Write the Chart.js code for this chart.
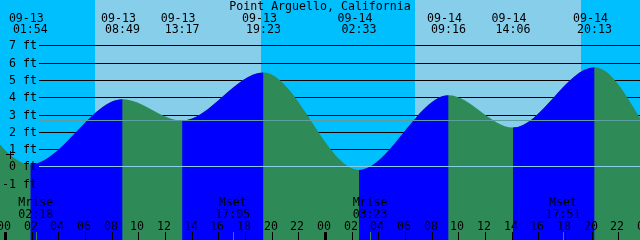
<!DOCTYPE html>
<html>
<head>
<meta charset="utf-8">
<script src="https://cdn.jsdelivr.net/npm/chart.js@4.4.1/dist/chart.umd.min.js"></script>
<style>
html,body{margin:0;padding:0;background:#00BFFF;overflow:hidden;}
canvas{display:block;}
</style>
</head>
<body>
<canvas id="c" width="640" height="240"></canvas>
<script>
// ---------- data ----------
const TITLE = 'Point Arguello, California';
// tide extremes (first two and last two lie outside the visible window, estimated)
const tideTimes   = ['09-12 12:20','09-12 18:40','09-13 01:54','09-13 08:49','09-13 13:17','09-13 19:23',
                     '09-14 02:33','09-14 09:16','09-14 14:06','09-14 20:13','09-15 03:12','09-15 09:50'];
const tideHeights = [2.9, 5.0, 0.1, 3.86, 2.62, 5.40, -0.23, 4.09, 2.22, 5.71, -0.4, 4.3];
const sunriseTimes = ['09-13 06:45','09-14 06:45'];
const sunsetTimes  = ['09-13 19:12','09-14 19:12'];
const moonLabels = ['Mrise','Mset','Mrise','Mset'];
const moonTimes  = ['09-13 02:18','09-13 17:05','09-14 03:23','09-14 17:51'];
const dayDates   = ['09-13','09-14','09-15'];
const hourLabels = ['00','02','04','06','08','10','12','14','16','18','20','22'];
const ftLevels   = [-1,0,1,2,3,4,5,6,7];
const mslLevel   = 2.66;

// ---------- styling ----------
const NIGHT = '#00BFFF', DAY = '#87CEEB', RISE = '#0000FF', FALL = '#2E8B57';
const FONT = '11.6px "DejaVu Sans Mono", monospace';
const X_MIN = -0.375, X_MAX = 47.625, Y_MIN = -4.28, Y_MAX = 9.60;

function toHours(s){
  const [md, hm] = s.split(' ');
  const day = parseInt(md.split('-')[1], 10) - 13;
  const [h, m] = hm.split(':').map(Number);
  return day * 24 + h + m / 60;
}

const tidePlugin = {
  id: 'tidePlugin',
  beforeDraw(chart){
    const {ctx, width, height, scales:{x}} = chart;
    ctx.save();
    ctx.fillStyle = NIGHT;
    ctx.fillRect(0, 0, width, height);
    ctx.fillStyle = DAY;
    for (let i = 0; i < sunriseTimes.length; i++){
      const a = Math.round(x.getPixelForValue(toHours(sunriseTimes[i])));
      const b = Math.round(x.getPixelForValue(toHours(sunsetTimes[i])));
      ctx.fillRect(a, 0, b - a, height);
    }
    ctx.restore();
  },
  beforeDatasetsDraw(chart){
    const {ctx, width, scales:{y}} = chart;
    ctx.save();
    ctx.fillStyle = '#000';
    ftLevels.forEach(l => {
      if (l <= 0) return;
      const r = Math.ceil(y.getPixelForValue(l) - 0.1);
      ctx.fillRect(39, r, width - 39, 1);
    });
    ctx.restore();
  },
  afterDatasetsDraw(chart){
    const {ctx, width, scales:{x, y}} = chart;
    ctx.save();
    // light reference lines
    const r0 = Math.ceil(y.getPixelForValue(0) - 0.1);
    ctx.fillStyle = '#87CEEB';
    ctx.fillRect(39, r0, width - 39, 1);
    const rm = Math.round(y.getPixelForValue(mslLevel));
    ctx.fillStyle = '#5F9EA0';
    ctx.fillRect(39, rm, width - 39, 1);

    ctx.font = FONT;
    ctx.fillStyle = '#000';
    ctx.textBaseline = 'alphabetic';

    // y labels
    ctx.textAlign = 'right';
    ftLevels.forEach(l => {
      const r = Math.ceil(y.getPixelForValue(l) - 0.1);
      ctx.fillText(l + ' ft', 37, r + 4);
    });

    // title
    ctx.textAlign = 'center';
    ctx.fillText(TITLE, 320, 10);

    // tide event labels
    tideTimes.forEach(t => {
      const h = toHours(t);
      if (h < X_MIN || h > X_MAX) return;
      const px = x.getPixelForValue(h);
      const [d, tm] = t.split(' ');
      ctx.fillText(d, px - 4, 22);
      ctx.fillText(tm, px, 33);
    });

    // hour ticks & labels
    dayDates.forEach(d => {
      hourLabels.forEach(hl => {
        const h = toHours(d + ' ' + hl + ':00');
        if (h < X_MIN - 1 || h > X_MAX + 1) return;
        const px = Math.round(x.getPixelForValue(h));
        ctx.fillStyle = '#000';
        if (hl === '00') ctx.fillRect(px - 1, 232, 3, 8);
        else ctx.fillRect(px, 232, 1, 8);
        ctx.fillText(hl, px - 1, 230);
      });
    });

    // moon events
    moonTimes.forEach((t, i) => {
      const px = x.getPixelForValue(toHours(t));
      ctx.fillStyle = FALL;
      ctx.fillRect(Math.round(px), 232, 1, 8);
      ctx.fillStyle = '#000';
      ctx.fillText(moonLabels[i], px, 206);
      ctx.fillText(t.split(' ')[1], px, 218);
    });

    // small marker
    ctx.fillStyle = '#000';
    ctx.fillRect(6, 154, 8, 1);
    ctx.fillRect(10, 151, 1, 8);
    ctx.restore();
  }
};

const tidePoints = tideTimes.map((t, i) => ({x: toHours(t), y: tideHeights[i]}));

new Chart(document.getElementById('c'), {
  type: 'line',
  data: {
    datasets: [{
      // rising parts (blue), drawn on top
      data: tidePoints,
      order: 1,
      borderWidth: 0,
      borderColor: 'rgba(0,0,0,0)',
      pointRadius: 0,
      fill: 'start',
      backgroundColor: RISE,
      cubicInterpolationMode: 'monotone',
      segment: {
        backgroundColor: c => (c.p1.parsed.y > c.p0.parsed.y ? RISE : 'rgba(0,0,0,0)')
      }
    }, {
      // whole water body (green base = falling parts)
      data: tidePoints,
      order: 2,
      borderWidth: 0,
      borderColor: 'rgba(0,0,0,0)',
      pointRadius: 0,
      fill: 'start',
      backgroundColor: FALL,
      cubicInterpolationMode: 'monotone'
    }]
  },
  options: {
    responsive: false,
    animation: false,
    devicePixelRatio: 1,
    layout: {padding: 0},
    plugins: {legend: {display: false}, tooltip: {enabled: false}, title: {display: false}},
    events: [],
    scales: {
      x: {type: 'linear', min: X_MIN, max: X_MAX, display: false},
      y: {type: 'linear', min: Y_MIN, max: Y_MAX, display: false}
    }
  },
  plugins: [tidePlugin]
});
</script>
</body>
</html>
